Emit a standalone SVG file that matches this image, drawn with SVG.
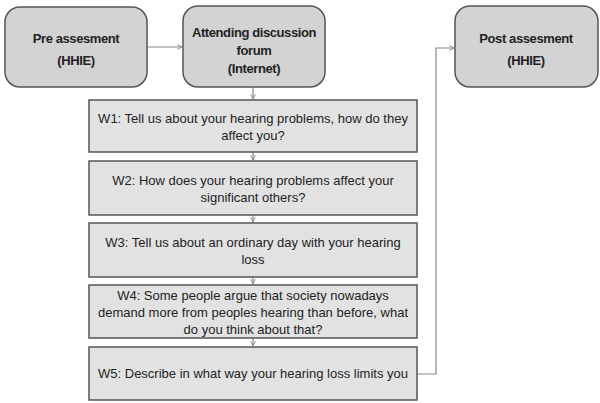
<svg xmlns="http://www.w3.org/2000/svg" width="600" height="403" viewBox="0 0 600 403">
<style>
.rb{fill:#d3d3d3;stroke:#555;stroke-width:1.5}
.wb{fill:#e2e2e2;stroke:#555;stroke-width:1.5}
.t{font-family:"Liberation Sans",Arial,sans-serif;font-size:13px;fill:#222;text-anchor:middle}
.b{font-weight:bold;font-size:13px;letter-spacing:-0.4px}
.c{fill:none;stroke:#888;stroke-width:1.2}
</style>
<defs>
<marker id="ah" viewBox="0 0 10 10" refX="9" refY="5" markerWidth="6" markerHeight="6" orient="auto" markerUnits="userSpaceOnUse">
<path d="M1,1 L9,5 L1,9" fill="none" stroke="#888" stroke-width="1.5"/>
</marker>
</defs>
<rect width="600" height="403" fill="#fff"/>
<g id="connectors">
<line class="c" x1="147" y1="47" x2="182" y2="47" marker-end="url(#ah)"/>
<line class="c" x1="253" y1="87" x2="253" y2="99" marker-end="url(#ah)"/>
<line class="c" x1="253" y1="152" x2="253" y2="160" marker-end="url(#ah)"/>
<line class="c" x1="253" y1="215" x2="253" y2="222" marker-end="url(#ah)"/>
<line class="c" x1="253" y1="277" x2="253" y2="284" marker-end="url(#ah)"/>
<line class="c" x1="253" y1="338" x2="253" y2="346" marker-end="url(#ah)"/>
<polyline class="c" points="417,374 436,374 436,48 454,48" marker-end="url(#ah)"/>
</g>
<g id="pre">
<rect class="rb" x="5" y="7" width="142" height="80" rx="15"/>
<text class="t b" x="76" y="43">Pre assesment</text>
<text class="t b" x="76" y="65">(HHIE)</text>
</g>
<g id="forum">
<rect class="rb" x="183" y="6" width="142" height="81" rx="15"/>
<text class="t b" x="254" y="37">Attending discussion</text>
<text class="t b" x="254" y="55">forum</text>
<text class="t b" x="254" y="73">(Internet)</text>
</g>
<g id="post">
<rect class="rb" x="455" y="6" width="143" height="81" rx="15"/>
<text class="t b" x="526" y="43">Post assesment</text>
<text class="t b" x="526" y="65">(HHIE)</text>
</g>
<g id="w1">
<rect class="wb" x="89" y="100" width="328" height="52"/>
<text class="t" x="253" y="123">W1: Tell us about your hearing problems, how do they</text>
<text class="t" x="253" y="140">affect you?</text>
</g>
<g id="w2">
<rect class="wb" x="89" y="161" width="328" height="54"/>
<text class="t" x="253" y="185">W2: How does your hearing problems affect your</text>
<text class="t" x="253" y="202">significant others?</text>
</g>
<g id="w3">
<rect class="wb" x="89" y="223" width="328" height="54"/>
<text class="t" x="253" y="247">W3: Tell us about an ordinary day with your hearing</text>
<text class="t" x="253" y="264">loss</text>
</g>
<g id="w4">
<rect class="wb" x="89" y="285" width="328" height="53"/>
<text class="t" x="253" y="300">W4: Some people argue that society nowadays</text>
<text class="t" x="253" y="317">demand more from peoples hearing than before, what</text>
<text class="t" x="253" y="334">do you think about that?</text>
</g>
<g id="w5">
<rect class="wb" x="89" y="347" width="328" height="53"/>
<text class="t" x="253" y="378">W5: Describe in what way your hearing loss limits you</text>
</g>
</svg>
